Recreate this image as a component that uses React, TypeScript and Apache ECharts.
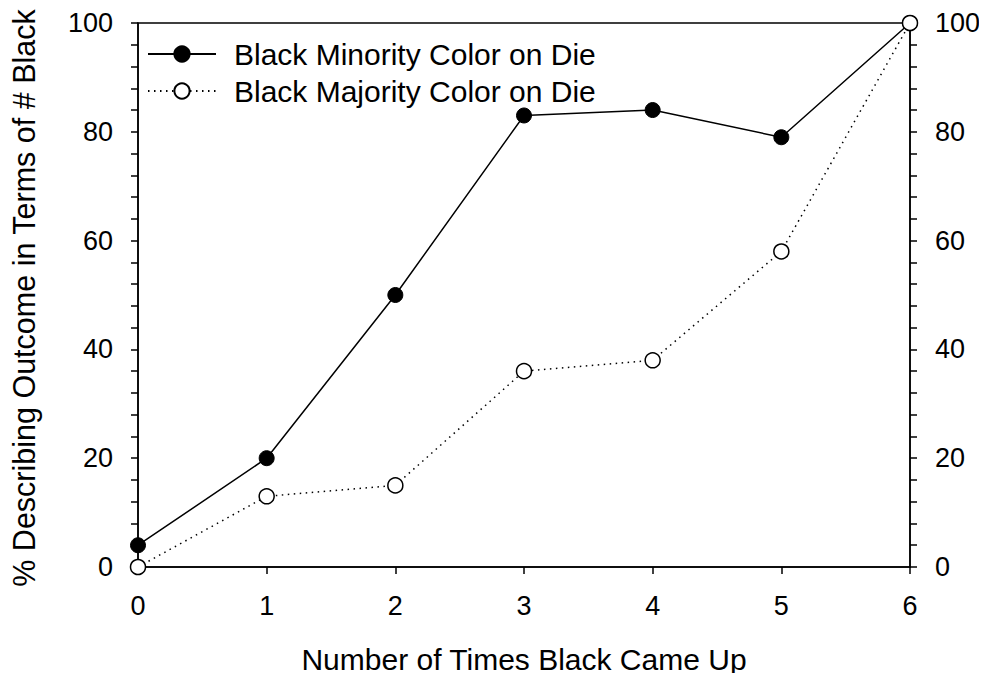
import React, { useEffect, useRef } from "react";
import * as echarts from "echarts";

const xValues = [0, 1, 2, 3, 4, 5, 6];
const minorityValues = [4, 20, 50, 83, 84, 79, 100];
const majorityValues = [0, 13, 15, 36, 38, 58, 100];
const seriesNames = ["Black Minority Color on Die", "Black Majority Color on Die"];
const xTitle = "Number of Times Black Came Up";
const yTitle = "% Describing Outcome in Terms of # Black";

const FONT = "'Liberation Sans', Arial, sans-serif";

export default function App() {
  const ref = useRef<HTMLDivElement>(null);
  useEffect(() => {
    if (!ref.current) return;
    const chart = echarts.init(ref.current, undefined, { renderer: "svg" });
    const axisCommon = {
      axisLine: { show: true, lineStyle: { color: "#000", width: 1.5 } },
      axisTick: { show: true, length: 7, lineStyle: { color: "#000", width: 1.5 } },
      splitLine: { show: false },
      axisLabel: { color: "#000", fontSize: 27, fontFamily: FONT, margin: 25 },
    };
    chart.setOption({
      animation: false,
      backgroundColor: "#fff",
      textStyle: { fontFamily: FONT },
      grid: { left: 133, right: 77, top: 23, bottom: 114, show: true, borderColor: "#000", borderWidth: 1.5 },
      legend: {
        left: 147,
        top: 39,
        padding: 0,
        orient: "vertical",
        itemWidth: 68,
        itemHeight: 19,
        itemGap: 7,
        textStyle: { fontSize: 30, color: "#000", fontFamily: FONT, padding: [0, 0, 0, 13] },
        data: seriesNames,
      },
      xAxis: {
        type: "value",
        min: 0,
        max: 6,
        interval: 1,
        ...axisCommon,
        name: xTitle,
        nameLocation: "middle",
        nameGap: 77,
        nameTextStyle: { fontSize: 30, color: "#000", fontFamily: FONT },
      },
      yAxis: [
        {
          type: "value",
          min: 0,
          max: 100,
          interval: 20,
          position: "left",
          ...axisCommon,
          minorTick: { show: true, splitNumber: 5, length: 7, lineStyle: { color: "#000", width: 1.5 } },
          name: yTitle,
          nameLocation: "middle",
          nameGap: 99,
          nameTextStyle: { fontSize: 30.5, color: "#000", fontFamily: FONT, padding: [0, 0, 0, -6] },
        },
        {
          type: "value",
          min: 0,
          max: 100,
          interval: 20,
          position: "right",
          ...axisCommon,
          minorTick: { show: true, splitNumber: 5, length: 7, lineStyle: { color: "#000", width: 1.5 } },
        },
      ],
      series: [
        {
          name: seriesNames[0],
          type: "line",
          data: xValues.map((x, i) => [x, minorityValues[i]]),
          symbol: "circle",
          symbolSize: 15,
          clip: false,
          lineStyle: { color: "#000", width: 1.5, type: "solid" },
          itemStyle: { color: "#000", borderColor: "#000", borderWidth: 1 },
          z: 3,
        },
        {
          name: seriesNames[1],
          type: "line",
          data: xValues.map((x, i) => [x, majorityValues[i]]),
          symbol: "circle",
          symbolSize: 15,
          clip: false,
          lineStyle: { color: "#000", width: 1.5, type: [1.5, 4.5] },
          itemStyle: { color: "#fff", borderColor: "#000", borderWidth: 1.5 },
          z: 3,
        },
      ],
    });
    return () => chart.dispose();
  }, []);
  return <div ref={ref} style={{ width: 987, height: 681, margin: -8 }} />;
}
